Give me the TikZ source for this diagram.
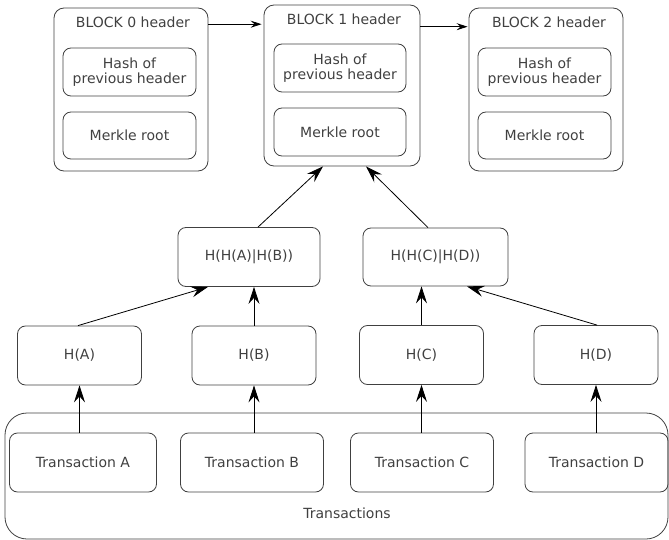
\documentclass[tikz,border=0pt]{standalone}
\usepackage{fontspec}
\setmainfont{DejaVu Sans}
\usetikzlibrary{arrows.meta,calc}

\begin{document}
\begin{tikzpicture}[x=1pt,y=-1pt]
	%Stile
	\tikzset{box/.style = {draw=black!75, line width=0.8pt, rounded corners=8pt, minimum width=124pt, minimum height=59pt, inner sep=0pt, align=center, text=black!75, font=\fontsize{14}{15.5}\selectfont}};
	\tikzset{inbox/.style = {box, minimum width=133pt, minimum height=48pt}};
	\tikzset{blkbox/.style = {box, rounded corners=10pt, minimum width=154pt, minimum height=163pt}};
	\tikzset{txt/.style = {inner sep=0pt, text=black!75, font=\fontsize{14}{15.5}\selectfont}};
	\tikzset{arr/.style = {-{Stealth[length=17pt,width=11pt,inset=6pt]}, line width=0.8pt}};
	\tikzset{arrs/.style = {-{Stealth[length=11pt,width=7pt,inset=4pt]}, line width=0.8pt}};
	\useasboundingbox (0,0) rectangle (669,540);

	%Bloecke
	\node[blkbox] (blk0) at (131,89.5) {};
	\node[blkbox, minimum width=156pt, minimum height=161pt] (blk1) at (342,85.5) {};
	\node[blkbox] (blk2) at (546,89.5) {};
	\node[txt] (hdr0) at (133,22.7) {BLOCK 0 header};
	\node[txt] (hdr1) at (344,19) {BLOCK 1 header};
	\node[txt] (hdr2) at (549,22.7) {BLOCK 2 header};
	\node[inbox] (hash0) at (129.5,72) {Hash of\\previous header};
	\node[inbox, minimum height=47pt] (merk0) at (129.5,135.5) {Merkle root};
	\node[inbox, minimum width=132pt] (hash1) at (340,68) {Hash of\\previous header};
	\node[inbox, minimum width=132pt] (merk1) at (340,132) {Merkle root};
	\node[inbox] (hash2) at (544.5,72) {Hash of\\previous header};
	\node[inbox, minimum height=47pt] (merk2) at (544.5,135.5) {Merkle root};

	%Hashbaum
	\node[box, minimum width=142pt] (hab) at (249,257) {H(H(A)|H(B))};
	\node[box, minimum width=145pt, minimum height=58pt] (hcd) at (435.5,257) {H(H(C)|H(D))};
	\node[box] (ha) at (79.5,355.5) {H(A)};
	\node[box] (hb) at (254,355.5) {H(B)};
	\node[box] (hc) at (421.5,355) {H(C)};
	\node[box] (hd) at (596,355) {H(D)};

	%Transaktionen
	\node[box, rounded corners=22pt, minimum width=663pt, minimum height=126pt] (txs) at (336.5,476) {};
	\node[box, minimum width=147pt] (ta) at (83,462.5) {Transaction A};
	\node[box, minimum width=143pt] (tb) at (252,462.5) {Transaction B};
	\node[box, minimum width=143pt] (tc) at (422,462.5) {Transaction C};
	\node[box, minimum width=143pt] (td) at (596.5,462.5) {Transaction D};
	\node[txt] (txlbl) at (347,513) {Transactions};

	%Pfeile oben
	\draw[arrs, shorten >=2pt] ($(blk0.east |- hdr0)+(0,1.5)$) -- ($(blk1.west |- hdr0)+(0,1.5)$);
	\draw[arrs, shorten >=1pt] ($(blk1.east |- hdr2)+(0,4)$) -- ($(blk2.west |- hdr2)+(0,4)$);
	\draw[arr] ([xshift=9pt]hab.north) -- ([xshift=-19pt]blk1.south);
	\draw[arr] ([xshift=-7.5pt]hcd.north) -- ([xshift=24pt]blk1.south);

	%Pfeile Baum
	\draw[arr] ([xshift=-1.5pt]ha.north) -- ([xshift=-41pt]hab.south);
	\draw[arr] (hb.north) -- (hb.north |- hab.south);
	\draw[arr] (hc.north) -- (hc.north |- hcd.south);
	\draw[arr] ([xshift=1pt]hd.north) -- ([xshift=31.5pt]hcd.south);
	\draw[arr] (ta.north -| ha) -- (ha.south);
	\draw[arr] (tb.north -| hb) -- (hb.south);
	\draw[arr] (tc.north -| hc) -- (hc.south);
	\draw[arr] (td.north -| hd) -- (hd.south);
\end{tikzpicture}
\end{document}
